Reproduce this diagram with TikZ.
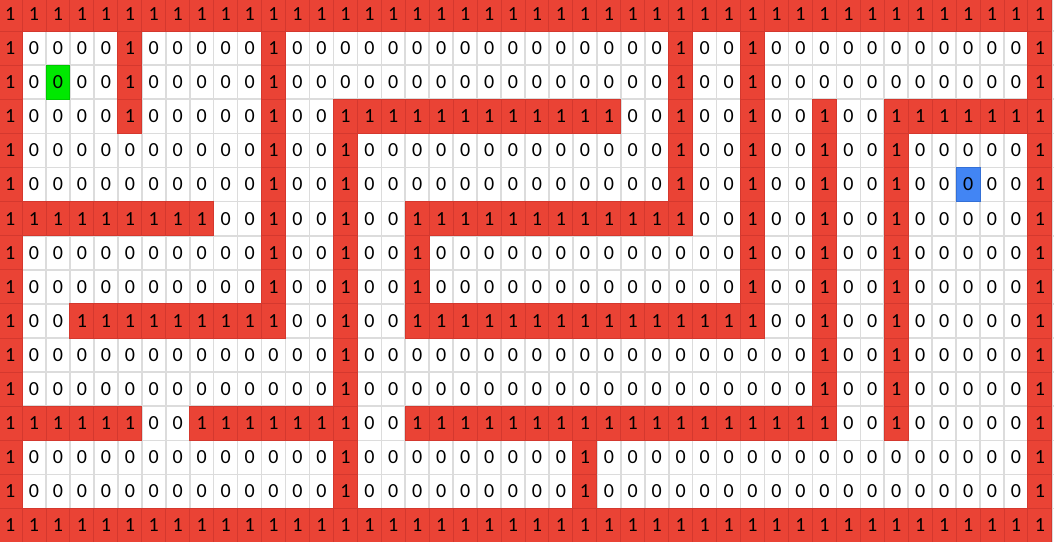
\documentclass[tikz,border=0pt]{standalone}
\usepackage{fontspec}
\setmainfont{Carlito}
\definecolor{wallfill}{RGB}{234,67,53}
\definecolor{wallline}{RGB}{212,56,46}
\definecolor{startfill}{RGB}{0,232,0}
\definecolor{startline}{RGB}{0,200,0}
\definecolor{goalfill}{RGB}{66,133,244}
\definecolor{goalline}{RGB}{52,112,214}
\definecolor{gridgray}{RGB}{220,220,220}
\tikzset{
  basecell/.style={rectangle, minimum width=23.95*0.75pt, minimum height=34.1*0.75pt, inner sep=0pt, outer sep=0pt, font=\fontsize{15pt}{15pt}\selectfont, text=black},
  opencell/.style={basecell},
  wallcell/.style={basecell, fill=wallfill, draw=wallline, line width=0.7pt},
  startcell/.style={basecell, fill=startfill, draw=startline, line width=0.7pt},
  goalcell/.style={basecell, fill=goalfill, draw=goalline, line width=0.7pt},
  gridline/.style={draw=gridgray, line width=1.2pt}
}
\def\mazerows{%
{1,1,1,1,1,1,1,1,1,1,1,1,1,1,1,1,1,1,1,1,1,1,1,1,1,1,1,1,1,1,1,1,1,1,1,1,1,1,1,1,1,1,1,1},%
{1,0,0,0,0,1,0,0,0,0,0,1,0,0,0,0,0,0,0,0,0,0,0,0,0,0,0,0,1,0,0,1,0,0,0,0,0,0,0,0,0,0,0,1},%
{1,0,0,0,0,1,0,0,0,0,0,1,0,0,0,0,0,0,0,0,0,0,0,0,0,0,0,0,1,0,0,1,0,0,0,0,0,0,0,0,0,0,0,1},%
{1,0,0,0,0,1,0,0,0,0,0,1,0,0,1,1,1,1,1,1,1,1,1,1,1,1,0,0,1,0,0,1,0,0,1,0,0,1,1,1,1,1,1,1},%
{1,0,0,0,0,0,0,0,0,0,0,1,0,0,1,0,0,0,0,0,0,0,0,0,0,0,0,0,1,0,0,1,0,0,1,0,0,1,0,0,0,0,0,1},%
{1,0,0,0,0,0,0,0,0,0,0,1,0,0,1,0,0,0,0,0,0,0,0,0,0,0,0,0,1,0,0,1,0,0,1,0,0,1,0,0,0,0,0,1},%
{1,1,1,1,1,1,1,1,1,0,0,1,0,0,1,0,0,1,1,1,1,1,1,1,1,1,1,1,1,0,0,1,0,0,1,0,0,1,0,0,0,0,0,1},%
{1,0,0,0,0,0,0,0,0,0,0,1,0,0,1,0,0,1,0,0,0,0,0,0,0,0,0,0,0,0,0,1,0,0,1,0,0,1,0,0,0,0,0,1},%
{1,0,0,0,0,0,0,0,0,0,0,1,0,0,1,0,0,1,0,0,0,0,0,0,0,0,0,0,0,0,0,1,0,0,1,0,0,1,0,0,0,0,0,1},%
{1,0,0,1,1,1,1,1,1,1,1,1,0,0,1,0,0,1,1,1,1,1,1,1,1,1,1,1,1,1,1,1,0,0,1,0,0,1,0,0,0,0,0,1},%
{1,0,0,0,0,0,0,0,0,0,0,0,0,0,1,0,0,0,0,0,0,0,0,0,0,0,0,0,0,0,0,0,0,0,1,0,0,1,0,0,0,0,0,1},%
{1,0,0,0,0,0,0,0,0,0,0,0,0,0,1,0,0,0,0,0,0,0,0,0,0,0,0,0,0,0,0,0,0,0,1,0,0,1,0,0,0,0,0,1},%
{1,1,1,1,1,1,0,0,1,1,1,1,1,1,1,0,0,1,1,1,1,1,1,1,1,1,1,1,1,1,1,1,1,1,1,0,0,1,0,0,0,0,0,1},%
{1,0,0,0,0,0,0,0,0,0,0,0,0,0,1,0,0,0,0,0,0,0,0,0,1,0,0,0,0,0,0,0,0,0,0,0,0,0,0,0,0,0,0,1},%
{1,0,0,0,0,0,0,0,0,0,0,0,0,0,1,0,0,0,0,0,0,0,0,0,1,0,0,0,0,0,0,0,0,0,0,0,0,0,0,0,0,0,0,1},%
{1,1,1,1,1,1,1,1,1,1,1,1,1,1,1,1,1,1,1,1,1,1,1,1,1,1,1,1,1,1,1,1,1,1,1,1,1,1,1,1,1,1,1,1}%
}
\begin{document}
\begin{tikzpicture}[x=0.75pt,y=-0.75pt]
\useasboundingbox (0,0) rectangle (1054,542);
\clip (0,0) rectangle (1054,542);
\fill[white] (0,0) rectangle (1054,542);
\foreach \cc in {0,...,44} {
  \draw[gridline] ({-1.9+\cc*23.95},-5) -- ({-1.9+\cc*23.95},550);
}
\foreach \rr in {0,...,16} {
  \draw[gridline] (-5,{-3+\rr*34.1}) -- (1060,{-3+\rr*34.1});
}
\foreach \mrow [count=\ri from 0] in \mazerows {
  \foreach \v [count=\ci from 0] in \mrow {
    \ifnum\v=1 \def\st{wallcell}\else\def\st{opencell}\fi
    \ifnum\ri=2 \ifnum\ci=2 \def\st{startcell}\fi\fi
    \ifnum\ri=5 \ifnum\ci=40 \def\st{goalcell}\fi\fi
    \node[\st] (cell-\ri-\ci) at ({-1.9+(\ci+0.5)*23.95},{-3+(\ri+0.5)*34.1}) {\v};
  }
}
\end{tikzpicture}
\end{document}
